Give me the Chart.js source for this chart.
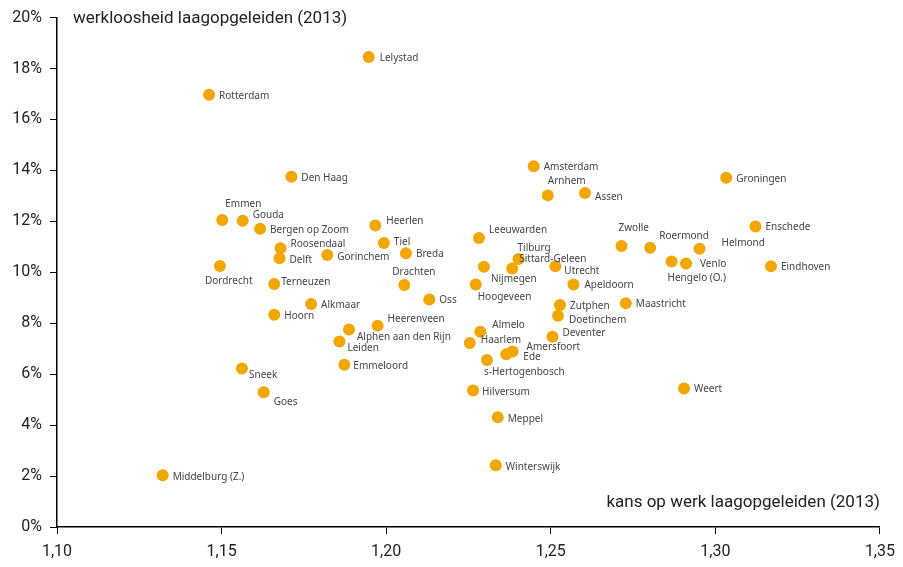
<!DOCTYPE html>
<html>
<head>
<meta charset="utf-8">
<script src="https://cdn.jsdelivr.net/npm/chart.js@4/dist/chart.umd.min.js"></script>
<style>
  body { margin: 0; background: #fff; }
  #wrap { width: 903px; height: 567px; }
</style>
</head>
<body>
<div id="wrap"><canvas id="myChart" width="903" height="567"></canvas></div>
<script>
// data
let cities = ["Lelystad", "Rotterdam", "Den Haag", "Amsterdam", "Arnhem", "Assen", "Groningen",
    "Emmen", "Gouda", "Bergen op Zoom", "Roosendaal", "Delft", "Gorinchem", "Heerlen", "Tiel", "Breda",
    "Dordrecht", "Terneuzen", "Drachten", "Oss", "Alkmaar", "Hoorn", "Heerenveen", "Alphen aan den Rijn",
    "Leiden", "Emmeloord", "Sneek", "Goes", "Middelburg (Z.)", "Leeuwarden", "Nijmegen", "Sittard-Geleen",
    "Tilburg", "Utrecht", "Hoogeveen", "Apeldoorn", "Zutphen", "Doetinchem", "Maastricht", "Almelo",
    "Haarlem", "Deventer", "Amersfoort", "Ede", "s-Hertogenbosch", "Zwolle", "Roermond", "Helmond",
    "Hengelo (O.)", "Venlo", "Enschede", "Eindhoven", "Hilversum", "Weert", "Meppel", "Winterswijk"];

let kansOpWerk = [1.1947, 1.1462, 1.1712, 1.2448, 1.2491, 1.2604, 1.3033,
    1.1502, 1.1564, 1.1617, 1.1679, 1.1676, 1.1821, 1.1967, 1.1993, 1.2060,
    1.1495, 1.1660, 1.2055, 1.2131, 1.1772, 1.1660, 1.1974, 1.1887,
    1.1858, 1.1873, 1.1562, 1.1628, 1.1321, 1.2282, 1.2297, 1.2383,
    1.2402, 1.2514, 1.2272, 1.2569, 1.2528, 1.2522, 1.2728, 1.2286,
    1.2254, 1.2505, 1.2384, 1.2365, 1.2306, 1.2715, 1.2802, 1.2952,
    1.2867, 1.2911, 1.3122, 1.3169, 1.2264, 1.2905, 1.2339, 1.2333];

let werkloosheid = [18.45, 16.97, 13.75, 14.16, 13.02, 13.11, 13.71,
    12.05, 12.02, 11.71, 10.94, 10.55, 10.68, 11.84, 11.15, 10.75,
    10.25, 9.54, 9.50, 8.93, 8.76, 8.33, 7.90, 7.75,
    7.28, 6.37, 6.22, 5.29, 2.03, 11.35, 10.22, 10.15,
    10.52, 10.24, 9.52, 9.52, 8.72, 8.29, 8.78, 7.67,
    7.22, 7.47, 6.89, 6.78, 6.56, 11.03, 10.96, 10.92,
    10.42, 10.35, 11.80, 10.24, 5.36, 5.44, 4.31, 2.42];

let xTickLabels = ["1,10", "1,15", "1,20", "1,25", "1,30", "1,35"];
let yTickLabels = ["0%", "2%", "4%", "6%", "8%", "10%", "12%", "14%", "16%", "18%", "20%"];

// where each city name sits relative to its dot (px)
let labelNudge = [[11,1],[10,1],[10,1],[10,1],[0,-14],[10,4],[10,1],
    [3,-16],[10,-6],[10,1],[10,-4],[10,2],[10,2],[11,-4],[10,-1],[10,1],
    [-15,15],[7,-2],[-12,-13],[10,1],[10,1],[10,1],[10,-7],[8,8],
    [8,7],[9,1],[7,7],[10,10],[10,2],[10,-8],[7,12],[7,-9],
    [-1,-11],[9,5],[2,13],[11,1],[10,1],[11,4],[10,1],[12,-6],
    [11,-3],[10,-4],[14,-4],[17,3],[-3,12],[-3,-18],[9,-12],[22,-6],
    [-4,17],[14,1],[10,1],[10,1],[9,2],[10,1],[10,2],[10,2]];

let ctx1 = document.querySelector("#myChart");

// city names + axis titles
const cityLabels = {
    id: "cityLabels",
    afterDatasetsDraw(chart) {
        let c = chart.ctx;
        let area = chart.chartArea;
        let meta = chart.getDatasetMeta(0);
        c.save();
        c.font = '10px "Noto Sans"';
        c.fillStyle = "#444";
        c.textBaseline = "middle";
        c.textAlign = "left";
        meta.data.forEach((pt, i) => {
            c.fillText(cities[i], pt.x + labelNudge[i][0], pt.y + labelNudge[i][1]);
        });

        c.font = '17px Roboto';
        c.fillStyle = "#222";
        c.fillText("werkloosheid laagopgeleiden (2013)", area.left + 16, area.top + 1);
        c.textAlign = "right";
        c.fillText("kans op werk laagopgeleiden (2013)", area.right, area.bottom - 24);
        c.restore();
    }
};

new Chart(ctx1, {
    type: "scatter",
    data: {
        datasets: [{
            data: kansOpWerk.map((x, i) => ({ x: x, y: werkloosheid[i] })),
            backgroundColor: "#f1a600",
            borderWidth: 0,
            pointRadius: 6,
        }]
    },
    options: {
        responsive: false,
        animation: false,
        events: [],
        layout: {
            padding: { top: 16, right: 22, left: 0, bottom: 0 }
        },
        plugins: {
            legend: { display: false },
            tooltip: { enabled: false }
        },
        scales: {
            x: {
                type: "linear",
                min: 1.1,
                max: 1.35,
                afterFit: (scale) => { scale.height = 40; },
                ticks: {
                    stepSize: 0.05,
                    padding: 8,
                    color: "#222",
                    font: { family: "Roboto", size: 16 },
                    callback: (value, index) => xTickLabels[index]
                },
                grid: {
                    drawOnChartArea: false,
                    drawTicks: true,
                    tickLength: 7,
                    color: "#000"
                },
                border: { color: "#000", width: 1.5 }
            },
            y: {
                min: 0,
                max: 20,
                afterFit: (scale) => { scale.width = 57; },
                ticks: {
                    stepSize: 2,
                    padding: 8,
                    color: "#222",
                    font: { family: "Roboto", size: 16 },
                    callback: (value, index) => yTickLabels[index]
                },
                grid: {
                    drawOnChartArea: false,
                    drawTicks: true,
                    tickLength: 7,
                    color: "#000"
                },
                border: { color: "#000", width: 1.5 }
            }
        }
    },
    plugins: [cityLabels]
});
</script>
</body>
</html>
